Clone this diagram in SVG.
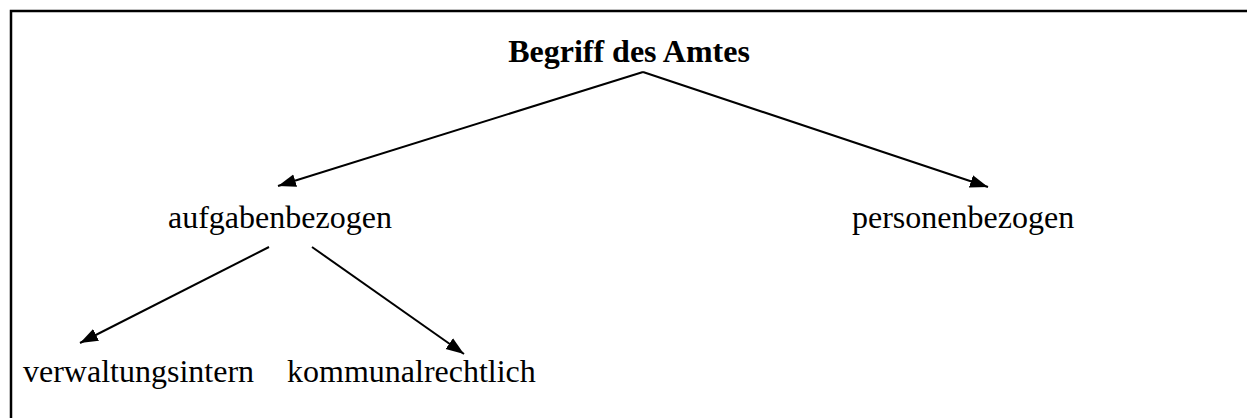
<svg xmlns="http://www.w3.org/2000/svg" width="1247" height="418" viewBox="0 0 1247 418">
<style>
.t{font-family:"Liberation Serif","Times New Roman",serif;font-size:32px;fill:#000}
.b{font-weight:bold}
.c{stroke:#000;stroke-width:2;fill:none}
</style>
<defs>
<marker id="ah" markerUnits="userSpaceOnUse" markerWidth="19" markerHeight="14" refX="18" refY="7" orient="auto">
<path d="M0,0.5 L18,7 L0,13.5 z" fill="#000"/>
</marker>
</defs>
<rect width="1247" height="418" fill="#fff"/>
<path d="M11,420 V11 H1250" fill="none" stroke="#000" stroke-width="2.5"/>
<g id="connectors">
<line class="c" x1="643" y1="72" x2="278" y2="186" marker-end="url(#ah)"/>
<line class="c" x1="643" y1="72" x2="988" y2="187" marker-end="url(#ah)"/>
<line class="c" x1="269" y1="247" x2="80" y2="343" marker-end="url(#ah)"/>
<line class="c" x1="312" y1="247" x2="464" y2="354" marker-end="url(#ah)"/>
</g>
<g id="root"><text class="t b" x="629" y="62" text-anchor="middle">Begriff des Amtes</text></g>
<g id="aufgabenbezogen"><text class="t" x="168" y="228">aufgabenbezogen</text></g>
<g id="personenbezogen"><text class="t" x="852" y="228">personenbezogen</text></g>
<g id="verwaltungsintern"><text class="t" x="23" y="382">verwaltungsintern</text></g>
<g id="kommunalrechtlich"><text class="t" x="287" y="382">kommunalrechtlich</text></g>
</svg>
